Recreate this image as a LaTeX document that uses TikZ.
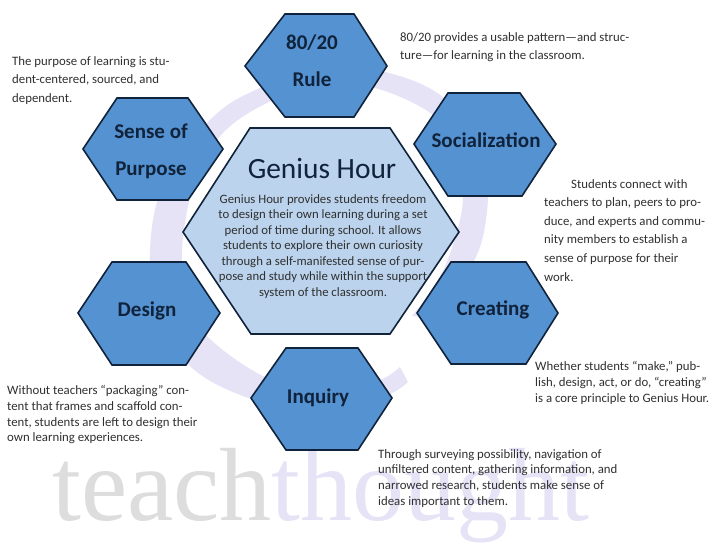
\documentclass[tikz,border=0pt]{standalone}
\usepackage{fontspec}
\setmainfont{Carlito}
\newfontfamily\wmfont{Liberation Serif}
\definecolor{hexblue}{HTML}{5592D2}
\definecolor{hexedge}{HTML}{10233A}
\definecolor{centerblue}{HTML}{BBD3EC}
\definecolor{ringc}{HTML}{E6E3F7}
\definecolor{wmgray}{HTML}{DDDDDD}
\definecolor{bodyc}{HTML}{303030}
\tikzset{
  hexshape/.style={draw=hexedge,line width=1.6pt,fill=hexblue,line join=miter},
  centershape/.style={draw=hexedge,line width=1.6pt,fill=centerblue,line join=miter},
  hexlabel/.style={font=\fontsize{21}{37}\selectfont\bfseries,text=hexedge,align=center,inner sep=0pt},
  body/.style={font=\fontsize{12.8}{18.6}\selectfont,text=bodyc,align=left,anchor=north west,inner sep=0pt},
  bodytight/.style={body,font=\fontsize{12.8}{15.8}\selectfont},
  wm/.style={font=\wmfont\fontsize{104}{104}\selectfont,anchor=base west,inner sep=0pt}
}
\newcommand{\hexa}[8]{\draw[hexshape] (#1,#2) -- (#3,#4) -- (#5,#4) -- (#6,#2) -- (#7,#8) -- (#3,#8) -- cycle;}
\begin{document}
\begin{tikzpicture}[x=1pt,y=-1pt]
\useasboundingbox (0,0) rectangle (710,542);
\fill[white] (0,0) rectangle (710,542);
% ring of the watermark logo
\fill[ringc] plot[smooth,tension=.6] coordinates {(408,382) (383,397) (320,412) (251,399) (190,366) (160,310) (150,250) (165,180) (213,117) (260,88) (320,68) (385,72) (443,97) (478,145) (488,190) (480,247) (455,290) (432,318)}
  -- plot[smooth,tension=.6] coordinates {(412,316) (435,285) (452,248) (463,197) (452,150) (433,115) (375,88) (320,85) (267,103) (223,133) (195,180) (182,250) (190,300) (207,336) (263,376) (320,390) (375,382) (400,367)} -- cycle;
% watermark word
\node[wm,text=wmgray] (wma) at (52,520) {teach};
\node[wm,text=ringc,anchor=base west] (wmb) at (wma.base east) {thought};
% outer hexagons
\hexa{245}{66}{285}{14}{354}{387}{354}{117}
\hexa{83}{149}{117}{98}{188}{223}{188}{200}
\hexa{414}{144}{448}{93}{520}{556}{522}{196}
\hexa{417}{313}{451}{262}{526}{558}{526}{364}
\hexa{251}{398}{286}{348}{358}{392}{358}{450}
\hexa{78}{313}{112}{262}{186}{220}{186}{365}
% centre hexagon
\draw[centershape] (183,232) -- (250,128) -- (390,128) -- (459,232) -- (390,334) -- (251,334) -- cycle;
% labels
\node[hexlabel] (rule) at (312,61) {80/20\\Rule};
\node[hexlabel] (sense) at (151,151) {Sense of\\Purpose};
\node[hexlabel] (social) at (486,140) {Socialization};
\node[hexlabel] (creating) at (493,310) {Creating};
\node[hexlabel] (inquiry) at (318,398) {Inquiry};
\node[hexlabel] (designn) at (147,311) {Design};
\node[font=\fontsize{29.4}{32}\selectfont,text=hexedge,inner sep=0pt] (title) at (322,168) {Genius Hour};
\node[font=\fontsize{12.75}{15.55}\selectfont,text=bodyc,align=center,inner sep=0pt,anchor=north] (centertext) at (323,194) {Genius Hour provides students freedom\\to design their own learning during a set\\period of time during school. It allows\\students to explore their own curiosity\\through a self-manifested sense of pur-\\pose and study while within the support\\system of the classroom.};
% descriptions
\node[body] (t1) at (400,32) {80/20 provides a usable pattern---and struc-\\ture---for learning in the classroom.};
\node[body] (t2) at (12,56) {The purpose of learning is stu-\\dent-centered, sourced, and\\dependent.};
\node[body] (t3) at (544,179) {\hspace{27pt}Students connect with\\teachers to plan, peers to pro-\\duce, and experts and commu-\\nity members to establish a\\sense of purpose for their\\work.};
\node[bodytight] (t4) at (535,361) {Whether students ``make,'' pub-\\lish, design, act, or do, ``creating''\\is a core principle to Genius Hour.};
\node[bodytight] (t5) at (7,385) {Without teachers ``packaging'' con-\\tent that frames and scaffold con-\\tent, students are left to design their\\own learning experiences.};
\node[bodytight] (t6) at (378,449) {Through surveying possibility, navigation of\\unfiltered content, gathering information, and\\narrowed research, students make sense of\\ideas important to them.};
\end{tikzpicture}
\end{document}
